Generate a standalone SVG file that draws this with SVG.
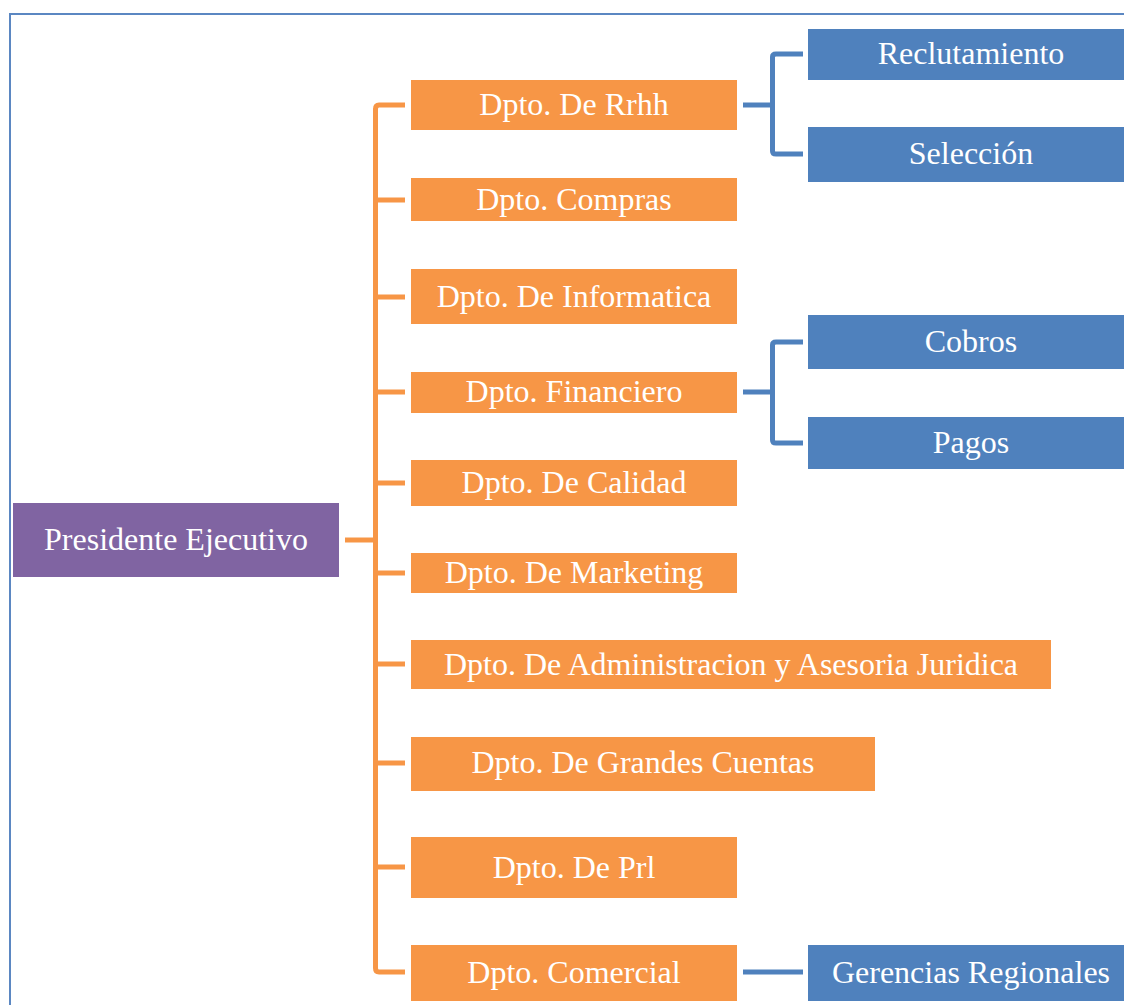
<svg xmlns="http://www.w3.org/2000/svg" width="1124" height="1005" viewBox="0 0 1124 1005">
<style>
.o{fill:#F79646}
.b{fill:#4F81BD}
.p{fill:#8064A2}
.t{font-family:'Liberation Serif','Times New Roman',serif;font-size:32px;fill:#FFFFFF;text-anchor:middle}
.co{fill:none;stroke:#F79646;stroke-width:5}
.cb{fill:none;stroke:#4F81BD;stroke-width:5}
</style>
<rect width="1124" height="1005" fill="#FFFFFF"/>
<path d="M10,1010 V14 H1130" fill="none" stroke="#5B87C2" stroke-width="2"/>
<g id="connectors">
<path class="co" d="M405,105 H379 Q375.5,105 375.5,109 V968 Q375.5,972 379,972 H405"/>
<path class="co" d="M345,540 H375.5"/>
<path class="co" d="M375.5,200 H405 M375.5,297 H405 M375.5,392 H405 M375.5,483 H405 M375.5,573 H405 M375.5,664 H405 M375.5,763 H405 M375.5,867 H405"/>
<path class="cb" d="M743,105 H772.5"/>
<path class="cb" d="M803,54 H776 Q772.5,54 772.5,57 V151 Q772.5,154 776,154 H803"/>
<path class="cb" d="M743,392 H772.5"/>
<path class="cb" d="M803,342 H776 Q772.5,342 772.5,345 V440 Q772.5,443 776,443 H803"/>
<path class="cb" d="M743,972 H803"/>
</g>
<g class="t">
<g id="presidente"><rect class="p" x="13" y="503" width="326" height="74"/><text x="176" y="550">Presidente Ejecutivo</text></g>
<g id="rrhh"><rect class="o" x="411" y="80" width="326" height="50"/><text x="574" y="115">Dpto. De Rrhh</text></g>
<g id="compras"><rect class="o" x="411" y="178" width="326" height="43"/><text x="574" y="210">Dpto. Compras</text></g>
<g id="informatica"><rect class="o" x="411" y="269" width="326" height="55"/><text x="574" y="307">Dpto. De Informatica</text></g>
<g id="financiero"><rect class="o" x="411" y="372" width="326" height="41"/><text x="574" y="402">Dpto. Financiero</text></g>
<g id="calidad"><rect class="o" x="411" y="460" width="326" height="46"/><text x="574" y="493">Dpto. De Calidad</text></g>
<g id="marketing"><rect class="o" x="411" y="553" width="326" height="40"/><text x="574" y="583">Dpto. De Marketing</text></g>
<g id="administracion"><rect class="o" x="411" y="640" width="640" height="49"/><text x="731" y="675">Dpto. De Administracion y Asesoria Juridica</text></g>
<g id="grandes"><rect class="o" x="411" y="737" width="464" height="54"/><text x="643" y="773">Dpto. De Grandes Cuentas</text></g>
<g id="prl"><rect class="o" x="411" y="837" width="326" height="61"/><text x="574" y="878">Dpto. De Prl</text></g>
<g id="comercial"><rect class="o" x="411" y="945" width="326" height="56"/><text x="574" y="983">Dpto. Comercial</text></g>
<g id="reclutamiento"><rect class="b" x="808" y="29" width="330" height="51"/><text x="971" y="64">Reclutamiento</text></g>
<g id="seleccion"><rect class="b" x="808" y="127" width="330" height="55"/><text x="971" y="164">Selección</text></g>
<g id="cobros"><rect class="b" x="808" y="315" width="330" height="54"/><text x="971" y="352">Cobros</text></g>
<g id="pagos"><rect class="b" x="808" y="417" width="330" height="52"/><text x="971" y="453">Pagos</text></g>
<g id="gerencias"><rect class="b" x="808" y="945" width="330" height="56"/><text x="971" y="983">Gerencias Regionales</text></g>
</g>
</svg>
